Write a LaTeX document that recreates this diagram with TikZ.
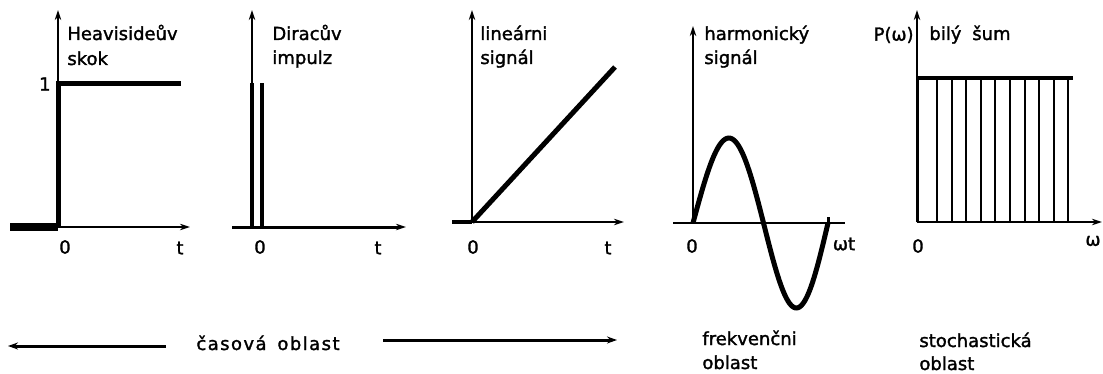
\documentclass[tikz,border=0pt]{standalone}
\usepackage{fontspec}
\setmainfont[FakeBold=1.6,AutoFakeBold=1.6]{DejaVu Sans}
\newfontfamily\spacedfont[LetterSpace=8,FakeBold=1.6]{DejaVu Sans}
\usetikzlibrary{arrows.meta}
\begin{document}
\begin{tikzpicture}[x=0.5pt,y=-0.5pt,
  axis/.style={line width=1pt,-{Stealth[length=5pt,width=3.2pt]}},
  sig/.style={line width=2.5pt},
  thinsig/.style={line width=1pt},
  lbl/.style={inner sep=0pt,font=\fontsize{9}{11}\selectfont\bfseries},
  txt/.style={lbl,anchor=base west},
  darr/.style={line width=1.5pt,-{Stealth[length=5pt,width=3.5pt]}}]
\useasboundingbox (0,0) rectangle (1103,374);
% ---------- panel 1: Heaviside
\coordinate (a1o) at (58,227);
\coordinate (a1t) at (58,10);
\coordinate (a1x) at (190,227);
\coordinate (h0) at (10,227);
\coordinate (h1) at (58,84);
\coordinate (h2) at (181,84);
\draw[axis] (a1o) -- (a1t);
\draw[axis] (a1o) -- (a1x);
\draw[line width=4pt] (h0) -- (a1o);
\draw[sig,line cap=butt] (a1o) -- (h1) -- (h2);
\node[lbl,anchor=east] (one) at (51,84) {1};
\node[lbl] (z1) at (65,247) {0};
\node[lbl] (t1) at (180,248) {t};
\node[txt] (hv1) at (67,40) {Heavisideův};
\node[txt] (hv2) at (67,65) {skok};
% ---------- panel 2: Dirac
\coordinate (a2o) at (252,227);
\coordinate (a2t) at (252,10);
\coordinate (a2l) at (232,227);
\coordinate (a2x) at (406,227);
\coordinate (d1) at (252,83);
\coordinate (s1) at (262,83);
\coordinate (s0) at (262,227);
\draw[axis] (a2o) -- (a2t);
\draw[axis,line width=1.5pt] (a2l) -- (a2x);
\draw[line width=2pt] (a2o) -- (d1);
\draw[line width=2pt] (s0) -- (s1);
\node[lbl] (z2) at (260,247) {0};
\node[lbl] (t2) at (378,248) {t};
\node[txt] (di1) at (272,40) {Diracův};
\node[txt] (di2) at (272,64) {impulz};
% ---------- panel 3: linear
\coordinate (a3o) at (472,222);
\coordinate (a3t) at (472,10);
\coordinate (a3l) at (452,222);
\coordinate (a3x) at (624,222);
\coordinate (l1) at (615,67);
\draw[axis] (a3o) -- (a3t);
\draw[axis] (a3l) -- (a3x);
\draw[line width=2pt] (a3l) -- (a3o);
\draw[sig] (a3o) -- (l1);
\node[lbl] (z3) at (473,247) {0};
\node[lbl] (t3) at (608,248) {t};
\node[txt] (li1) at (480,40) {lineárni};
\node[txt] (li2) at (480,64) {signál};
% ---------- panel 4: harmonic
\coordinate (a4o) at (693,223);
\coordinate (a4t) at (693,26);
\coordinate (a4l) at (673,223);
\coordinate (a4x) at (845,223);
\draw[axis] (a4o) -- (a4t);
\draw[line width=1pt] (a4l) -- (a4x);
\draw[sig] plot[domain=0:360,samples=90] ({693+(\x+8*sin(\x/2))/360*135},{223-85*sin(\x)});
\draw[line width=1.5pt] (828,223) -- (828,217);
\node[lbl] (z4) at (692,246) {0};
\node[lbl] (wt) at (844,244) {ωt};
\node[txt] (ha1) at (704,40) {harmonický};
\node[txt] (ha2) at (704,64) {signál};
\node[txt] (fr1) at (702,345) {frekvenčni};
\node[txt] (fr2) at (702,369) {oblast};
% ---------- panel 5: white noise
\coordinate (a5o) at (917,222);
\coordinate (a5t) at (917,10);
\coordinate (a5x) at (1102,222);
\coordinate (n0) at (917,78);
\coordinate (n1) at (1073,78);
\draw[axis] (a5o) -- (a5t);
\draw[axis] (a5o) -- (a5x);
\foreach \k in {0,...,9}{
  \draw[thinsig] ({937+\k*14.6},222) -- ({937+\k*14.6},78);
}
\draw[line width=1.5pt] (a5o) -- (n0);
\draw[line width=2pt] (n0) -- (n1);
\node[lbl,anchor=east] (pw) at (914,35) {P(ω)};
\node[txt] (bs) at (929,40) {bilý\hspace{0.6em}šum};
\node[lbl] (z5) at (918,246) {0};
\node[lbl] (w5) at (1093,241) {ω};
\node[txt] (st1) at (919,347) {stochastická};
\node[txt] (st2) at (919,370) {oblast};
% ---------- bottom
\node[txt,font=\fontsize{9}{11}\spacedfont] (cas) at (196,350) {časová\hspace{0.6em}oblast};
\coordinate (la) at (166,346);
\coordinate (lb) at (8,346);
\coordinate (ra) at (383,340);
\coordinate (rb) at (617,340);
\draw[darr] (la) -- (lb);
\draw[darr] (ra) -- (rb);
\end{tikzpicture}
\end{document}
